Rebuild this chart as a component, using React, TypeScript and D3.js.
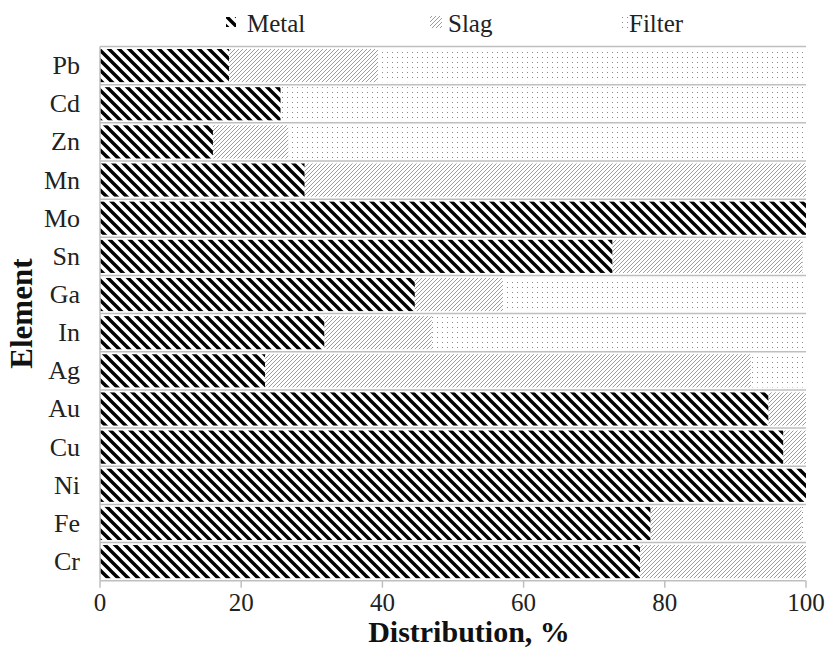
import React from "react";
import * as d3 from "d3";

const categories = ["Pb", "Cd", "Zn", "Mn", "Mo", "Sn", "Ga", "In", "Ag", "Au", "Cu", "Ni", "Fe", "Cr"];
const metal = [18.3, 25.6, 16.0, 29.0, 100, 72.6, 44.6, 31.8, 23.4, 94.7, 96.8, 100, 78.0, 76.5];
const slag = [21.1, 0, 10.7, 71.0, 0, 26.9, 12.5, 15.2, 68.8, 5.3, 3.2, 0, 21.4, 23.5];
const filter = [60.6, 74.4, 73.3, 0, 0, 0.5, 42.9, 53.0, 7.8, 0, 0, 0, 0.6, 0];
const seriesNames = ["Metal", "Slag", "Filter"];
const xTicks = [0, 20, 40, 60, 80, 100];

const W = 831;
const H = 660;
const margin = { left: 100, right: 25, top: 46.5, bottom: 79.3 };
const FONT = "Liberation Serif";
const GRID = "#bfbfbf";

export default function App() {
  const x = d3.scaleLinear().domain([0, 100]).range([margin.left, W - margin.right]);
  const y = d3.scaleBand().domain(categories).range([margin.top, H - margin.bottom]).paddingInner(0).paddingOuter(0);
  const step = y.step();
  const series = [metal, slag, filter];
  const fills = ["url(#pMetal)", "url(#pSlag)", "url(#pFilter)"];

  const legendItems = [
    { name: seriesNames[0], tx: 247 },
    { name: seriesNames[1], tx: 448 },
    { name: seriesNames[2], tx: 629 },
  ];
  const ts = { fontFamily: FONT };

  return (
    <svg width={W} height={H} style={{ position: "absolute", left: 0, top: 0, background: "#fff" }}>
      <defs>
        <pattern id="pMetal" patternUnits="userSpaceOnUse" width={10} height={10}>
          <rect width={10} height={10} fill="#fff" />
          <path d="M-3,7 L3,13 M0,0 L10,10 M7,-3 L13,3" stroke="#000" strokeWidth={3.4} />
        </pattern>
        <pattern id="pSlag" patternUnits="userSpaceOnUse" width={4} height={4}>
          <rect width={4} height={4} fill="#fff" />
          <path d="M-1,1 L1,-1 M0,4 L4,0 M3,5 L5,3" stroke="#8a8a8a" strokeWidth={0.85} />
        </pattern>
        <pattern id="pFilter" patternUnits="userSpaceOnUse" width={5} height={5}>
          <rect width={5} height={5} fill="#fff" />
          <rect x={2} y={2} width={1} height={1} fill="#8a8a8a" />
        </pattern>
      </defs>

      {/* separators */}
      {categories.map((c) => (
        <line key={"sep" + c} x1={x(0)} x2={x(100)} y1={y(c)!} y2={y(c)!} stroke={GRID} strokeWidth={1.5} />
      ))}

      {/* bars */}
      {categories.map((c, i) => {
        let acc = 0;
        return series.map((s, k) => {
          const v = s[i];
          const x0 = x(acc);
          acc += v;
          const x1 = x(Math.min(acc, 100));
          if (v <= 0) return null;
          return (
            <rect key={c + k} x={x0} y={y(c)! + 2.5} width={Math.max(0, x1 - x0)} height={step - 5} fill={fills[k]} />
          );
        });
      })}

      {/* axes */}
      <line x1={x(0)} x2={x(0)} y1={margin.top} y2={H - margin.bottom} stroke={GRID} strokeWidth={1.5} />
      <line x1={x(0)} x2={x(100)} y1={H - margin.bottom} y2={H - margin.bottom} stroke={GRID} strokeWidth={1.5} />
      {xTicks.map((t) => (
        <g key={"t" + t}>
          <line x1={x(t)} x2={x(t)} y1={H - margin.bottom} y2={H - margin.bottom + 7} stroke={GRID} strokeWidth={1.5} />
          <text x={x(t)} y={611} textAnchor="middle" fontSize={25} fill="#222" style={ts}>{t}</text>
        </g>
      ))}

      {categories.map((c) => (
        <text key={"l" + c} x={80} y={y(c)! + step / 2 + 8.5} textAnchor="end" fontSize={26} fill="#222" style={ts}>{c}</text>
      ))}

      <text x={469} y={642} textAnchor="middle" fontSize={30} fontWeight="bold" fill="#111" style={ts}>Distribution, %</text>
      <text transform={`translate(32,${(margin.top + H - margin.bottom) / 2}) rotate(-90)`} textAnchor="middle" fontSize={31} fontWeight="bold" fill="#111" style={ts}>Element</text>

      {/* legend */}
      <g>
        <rect x={226} y={17} width={10} height={10} fill="url(#pMetal)" />
        <rect x={430} y={16} width={12} height={12} fill="url(#pSlag)" />
        <rect x={620} y={15} width={8} height={13} fill="url(#pFilter)" />
        {legendItems.map((it) => (
          <text key={it.name} x={it.tx} y={32} fontSize={25} fill="#222" style={ts}>{it.name}</text>
        ))}
      </g>
    </svg>
  );
}
